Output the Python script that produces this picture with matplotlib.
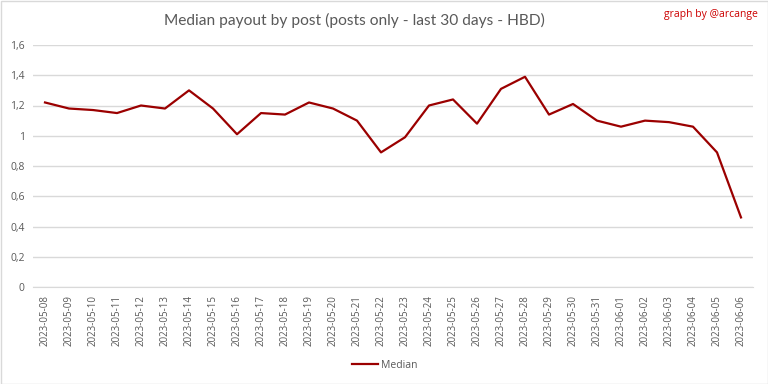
import matplotlib
matplotlib.use("Agg")
import matplotlib.pyplot as plt
from matplotlib.patches import Rectangle

dates = ["2023-05-08","2023-05-09","2023-05-10","2023-05-11","2023-05-12","2023-05-13",
         "2023-05-14","2023-05-15","2023-05-16","2023-05-17","2023-05-18","2023-05-19",
         "2023-05-20","2023-05-21","2023-05-22","2023-05-23","2023-05-24","2023-05-25",
         "2023-05-26","2023-05-27","2023-05-28","2023-05-29","2023-05-30","2023-05-31",
         "2023-06-01","2023-06-02","2023-06-03","2023-06-04","2023-06-05","2023-06-06"]
median = [1.22, 1.18, 1.17, 1.15, 1.20, 1.18, 1.30, 1.18, 1.01, 1.15, 1.14, 1.22,
          1.18, 1.10, 0.89, 0.99, 1.20, 1.24, 1.08, 1.31, 1.39, 1.14, 1.21, 1.10,
          1.06, 1.10, 1.09, 1.06, 0.89, 0.46]
yticks = [0, 0.2, 0.4, 0.6, 0.8, 1.0, 1.2, 1.4, 1.6]
ytick_labels = ["0", "0,2", "0,4", "0,6", "0,8", "1", "1,2", "1,4", "1,6"]

plt.rcParams['font.family'] = ['Open Sans', 'DejaVu Sans']

W, H = 768, 384
fig = plt.figure(figsize=(W/100, H/100), dpi=100)
ax = fig.add_axes([33/W, 1 - 287/H, (753-33)/W, (287-45)/H])

x = list(range(len(dates)))
ax.plot(x, median, color="#9b0000", linewidth=1.6, label="Median")
ax.set_xlim(-0.5, len(dates) - 0.5)
ax.set_ylim(0, 1.6)
ax.set_yticks(yticks)
ax.set_yticklabels(ytick_labels, fontsize=7.5, color="#595959")
ax.set_xticks(x)
ax.set_xticklabels(dates, rotation=90, fontsize=7, color="#595959")
ax.tick_params(axis='both', length=0, pad=6)
ax.grid(axis='y', color="#d9d9d9", linewidth=1)
ax.set_axisbelow(True)
for s in ["top", "right", "left"]:
    ax.spines[s].set_visible(False)
ax.spines["bottom"].set_color("#d9d9d9")

fig.text(354/W, 1 - 20/H, "Median payout by post (posts only - last 30 days - HBD)",
         ha="center", va="center", fontsize=11.2, color="#595959", family=["Lato", "DejaVu Sans"])
fig.text(1 - 10/W, 1 - 14/H, "graph by @arcange", ha="right", va="center",
         fontsize=7.5, color="#cc0000")

leg = fig.legend(loc="center", bbox_to_anchor=(385/W, 1 - 365/H), frameon=False,
                 fontsize=7.5, handlelength=2.5, handletextpad=0.3)
for t in leg.get_texts():
    t.set_color("#595959")

fig.patches.append(Rectangle((0.5/W, 0.5/H), 1 - 1/W, 1 - 1/H, transform=fig.transFigure,
                             fill=False, edgecolor="#d9d9d9", linewidth=1))

fig.savefig("out.png", dpi=100, facecolor="white")
